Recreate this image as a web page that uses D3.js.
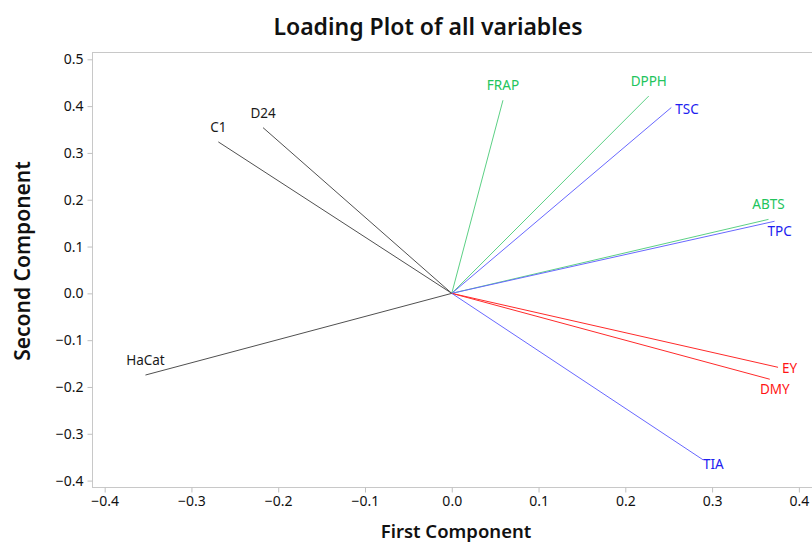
<!DOCTYPE html>
<html>
<head>
<meta charset="utf-8">
<script src="https://cdn.jsdelivr.net/npm/d3@7"></script>
<style>
  body { margin: 0; background: #fff; }
  svg { display: block; font-family: "Noto Sans", "Open Sans", sans-serif; }
</style>
</head>
<body>
<svg id="chart" width="812" height="543"></svg>
<script>
// loadings
const variables = ['FRAP', 'DPPH', 'TSC', 'ABTS', 'TPC', 'D24', 'C1', 'HaCat', 'EY', 'DMY', 'TIA'];
const pc1 = [0.059, 0.227, 0.253, 0.365, 0.372, -0.2175, -0.269, -0.353, 0.376, 0.3665, 0.2895];
const pc2 = [0.4125, 0.4215, 0.397, 0.158, 0.154, 0.354, 0.3235, -0.1745, -0.158, -0.1835, -0.3555];
const groups = ['antiox', 'antiox', 'pheno', 'antiox', 'pheno', 'cell', 'cell', 'cell', 'yield', 'yield', 'pheno'];
// where each name sits around its arrow tip
const placement = ['n', 'n', 'e', 'n', 's', 'n', 'n', 'n', 'e', 's', 'se'];

const xTicks = [-0.4, -0.3, -0.2, -0.1, 0.0, 0.1, 0.2, 0.3, 0.4];
const yTicks = [-0.4, -0.3, -0.2, -0.1, 0.0, 0.1, 0.2, 0.3, 0.4, 0.5];

const lineColor = { antiox: '#5cd085', pheno: '#6868ff', cell: '#505050', yield: '#ff2a2a' };
const textColor = { antiox: '#22c45c', pheno: '#2020f0', cell: '#1a1a1a', yield: '#ff1414' };

const svg = d3.select('#chart');
const plotLeft = 92, plotTop = 52, plotBottom = 487, plotRight = 815;

const x = d3.scaleLinear().domain([-0.4146, 0.4186]).range([plotLeft, plotRight]);
const y = d3.scaleLinear().domain([-0.4137, 0.5156]).range([plotBottom, plotTop]);

// frame
svg.append('rect')
    .attr('x', plotLeft + 0.5).attr('y', plotTop + 0.5)
    .attr('width', plotRight - plotLeft).attr('height', plotBottom - plotTop)
    .attr('fill', 'none').attr('stroke', '#c8c8c8');

const fmt = d3.format('.1f');

const xAxis = svg.append('g')
    .attr('transform', `translate(0,${plotBottom + 0.5})`)
    .call(d3.axisBottom(x).tickValues(xTicks).tickFormat(fmt).tickSize(5).tickPadding(4));
const yAxis = svg.append('g')
    .attr('transform', `translate(${plotLeft + 0.5},0)`)
    .call(d3.axisLeft(y).tickValues(yTicks).tickFormat(fmt).tickSize(5).tickPadding(4));

[xAxis, yAxis].forEach(g => {
    g.select('.domain').remove();
    g.selectAll('.tick line').attr('stroke', '#c0c0c0');
    g.selectAll('.tick text')
        .attr('fill', '#111')
        .style('font-size', '14px')
        .style('font-family', '"Noto Sans", sans-serif');
});

const rows = variables.map((name, i) => ({
    name, x: pc1[i], y: pc2[i], group: groups[i], place: placement[i]
}));

const vec = svg.append('g');
vec.selectAll('line')
    .data(rows)
    .enter()
    .append('line')
    .attr('x1', x(0)).attr('y1', y(0))
    .attr('x2', d => x(d.x)).attr('y2', d => y(d.y))
    .attr('stroke', d => lineColor[d.group])
    .attr('stroke-width', 1);

const offsets = {
    n:  { dx: 0, dy: -15, anchor: 'middle' },
    e:  { dx: 4, dy: 1, anchor: 'start' },
    s:  { dx: 5, dy: 10, anchor: 'middle' },
    se: { dx: 0, dy: 4, anchor: 'start' }
};

vec.selectAll('text')
    .data(rows)
    .enter()
    .append('text')
    .attr('x', d => x(d.x) + offsets[d.place].dx)
    .attr('y', d => y(d.y) + offsets[d.place].dy)
    .attr('text-anchor', d => offsets[d.place].anchor)
    .attr('dominant-baseline', 'central')
    .attr('fill', d => textColor[d.group])
    .style('font-size', '13.5px')
    .text(d => d.name);

svg.append('text')
    .attr('x', 428).attr('y', 35)
    .attr('text-anchor', 'middle')
    .style('font-size', '23px').style('font-weight', '600')
    .attr('fill', '#111')
    .text('Loading Plot of all variables');

svg.append('text')
    .attr('x', 456).attr('y', 538)
    .attr('text-anchor', 'middle')
    .style('font-size', '18.5px').style('font-weight', '600')
    .attr('fill', '#111')
    .text('First Component');

svg.append('text')
    .attr('transform', 'translate(30,261) rotate(-90)')
    .attr('text-anchor', 'middle')
    .style('font-size', '21px').style('font-weight', '600')
    .attr('fill', '#111')
    .text('Second Component');
</script>
</body>
</html>
